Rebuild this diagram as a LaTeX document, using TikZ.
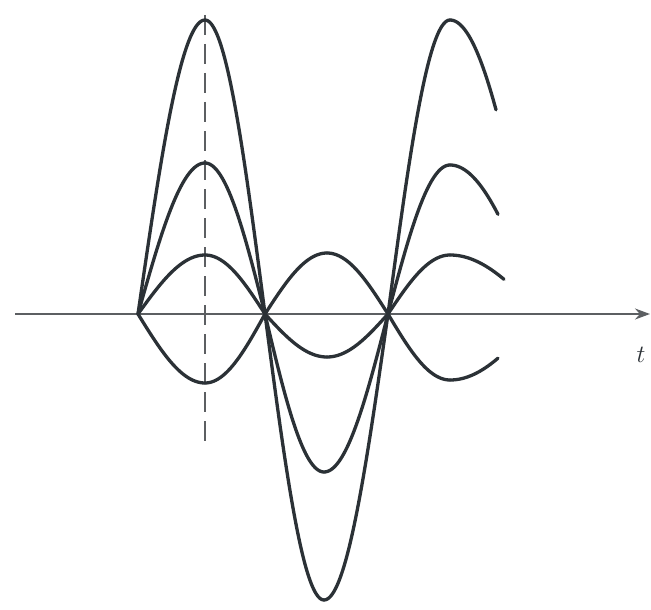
\documentclass[tikz,border=0pt]{standalone}
\usetikzlibrary{arrows.meta}
\definecolor{wavecol}{HTML}{2B3136}
\definecolor{axiscol}{HTML}{5C5F62}
\tikzset{
  wave/.style={draw=wavecol, line width=3.3pt, line cap=round, line join=round},
  axisline/.style={draw=axiscol, line width=2pt},
  guide/.style={draw=axiscol, line width=1.8pt, dash pattern=on 20pt off 9pt}
}
\newcommand\wq[5]{\draw[wave] plot[domain=0:#5, samples=40, smooth] ({#1+#2*\x/90},{-314+#3*#4(\x)});}
\begin{document}
\begin{tikzpicture}[x=1pt,y=1pt]
\useasboundingbox (0,0) rectangle (651,-610);
\fill[white] (0,0) rectangle (651,-610);
% axis
\coordinate (axL) at (15,-314);
\coordinate (axR) at (650,-314);
\draw[axisline, -{Stealth[length=15pt,width=11pt]}] (axL) -- (axR);
\node[font=\fontsize{24}{28}\selectfont, text=wavecol] (tlab) at (641,-355) {$t$};
% dashed guide
\coordinate (dT) at (205,-15);
\coordinate (dB) at (205,-448);
\draw[guide] (dT) -- (dB);
% large curve
\wq{138}{67}{294}{sin}{90}
\wq{205}{60}{294}{cos}{90}
\wq{265}{59}{-286}{sin}{90}
\wq{324}{64}{-286}{cos}{90}
\wq{388}{62}{294}{sin}{90}
\wq{450}{90}{294}{cos}{46}
% medium curve
\wq{138}{67}{151}{sin}{90}
\wq{205}{60}{151}{cos}{90}
\wq{265}{59}{-158}{sin}{90}
\wq{324}{64}{-158}{cos}{90}
\wq{388}{62}{149}{sin}{90}
\wq{450}{90}{149}{cos}{48}
% small curve (sin)
\wq{138}{67}{59}{sin}{90}
\wq{205}{60}{59}{cos}{90}
\wq{265}{62}{-43}{sin}{90}
\wq{327}{61}{-43}{cos}{90}
\wq{388}{62}{59}{sin}{90}
\wq{450}{90}{59}{cos}{54}
% small curve (-sin)
\wq{138}{67}{-69}{sin}{90}
\wq{205}{60}{-69}{cos}{90}
\wq{265}{62}{61}{sin}{90}
\wq{327}{61}{61}{cos}{90}
\wq{388}{62}{-66}{sin}{90}
\wq{450}{90}{-66}{cos}{48}
\end{tikzpicture}
\end{document}
